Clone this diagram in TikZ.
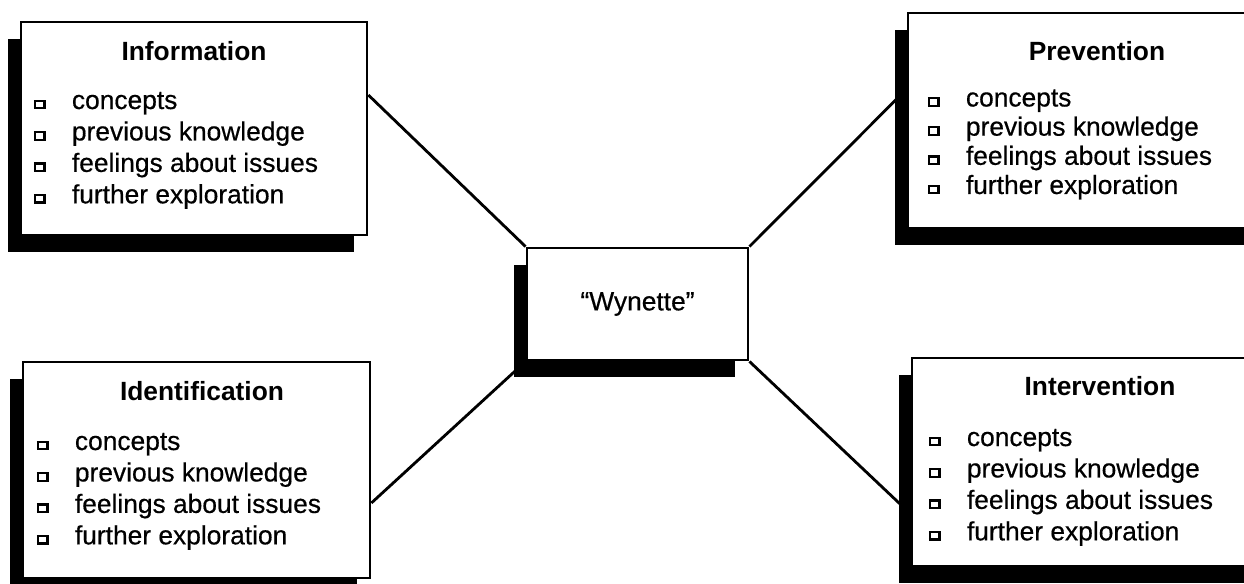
\documentclass[tikz,border=0pt]{standalone}
\usepackage{fontspec}
\setmainfont{Liberation Sans}
\usetikzlibrary{positioning, shadows, backgrounds}

% small hollow square used in front of each list entry
\newcommand{\sqbullet}{\raisebox{1.1pt}{\setlength{\fboxrule}{1.3pt}\setlength{\fboxsep}{0pt}\fbox{\rule{0pt}{3pt}\hspace{4pt}}}\hspace{15pt}}

\begin{document}
\begin{tikzpicture}[
    x=0.02cm, y=-0.02cm,
    topic/.style={rectangle, draw=black, line width=1.6pt, fill=white, inner sep=0pt,
        drop shadow={shadow xshift=-0.26cm, shadow yshift=-0.34cm, fill=black, opacity=1}},
    head/.style={inner sep=0pt, font=\fontsize{15}{18}\selectfont\bfseries},
    items/.style={anchor=north west, align=left, inner sep=0pt, font=\fontsize{15}{17.9}\selectfont\addfontfeature{FakeBold=0.5}},
    link/.style={line width=1.6pt}
]
\useasboundingbox (0,0) rectangle (1244,583);
\clip (0,0) rectangle (1244,583);

% centre box
\node[topic, minimum width=4.42cm, minimum height=2.24cm, font=\fontsize{15}{18}\selectfont\addfontfeature{FakeBold=0.5}] (hub) at (637.5,304) {“Wynette”};

% four topic boxes
\node[topic, minimum width=6.92cm, minimum height=4.26cm] (info) at (194,128.5) {};
\node[head] (infohead) at ([yshift=-0.6cm]info.north) {Information};
\node[items] (infolist) at ([xshift=0.28cm, yshift=-1.42cm]info.north west)
    {\sqbullet concepts\\ \sqbullet previous knowledge\\ \sqbullet feelings about issues\\ \sqbullet further exploration};

\node[topic, minimum width=7.56cm, minimum height=4.3cm] (prev) at (1097,120.5) {};
\node[head] (prevhead) at ([yshift=-0.78cm]prev.north) {Prevention};
\node[items, font=\fontsize{15}{16.6}\selectfont\addfontfeature{FakeBold=0.5}] (prevlist) at ([xshift=0.42cm, yshift=-1.55cm]prev.north west)
    {\sqbullet concepts\\ \sqbullet previous knowledge\\ \sqbullet feelings about issues\\ \sqbullet further exploration};

\node[topic, minimum width=6.94cm, minimum height=4.32cm] (ident) at (196.5,470) {};
\node[head] (identhead) at ([xshift=0.11cm, yshift=-0.6cm]ident.north) {Identification};
\node[items] (identlist) at ([xshift=0.3cm, yshift=-1.44cm]ident.north west)
    {\sqbullet concepts\\ \sqbullet previous knowledge\\ \sqbullet feelings about issues\\ \sqbullet further exploration};

\node[topic, minimum width=7.52cm, minimum height=4.16cm] (intv) at (1100,462) {};
\node[head] (intvhead) at ([yshift=-0.58cm]intv.north) {Intervention};
\node[items] (intvlist) at ([xshift=0.36cm, yshift=-1.44cm]intv.north west)
    {\sqbullet concepts\\ \sqbullet previous knowledge\\ \sqbullet feelings about issues\\ \sqbullet further exploration};

% where the connectors meet the topic boxes
\coordinate (infoA) at ([yshift=0.67cm]info.east);
\coordinate (prevA) at ([yshift=0.63cm]prev.west);
\coordinate (identA) at ([yshift=-0.66cm]ident.east);
\coordinate (intvA) at ([yshift=-1.04cm]intv.west);

\begin{scope}[on background layer]
\foreach \a/\b in {infoA/hub.north west, hub.north east/prevA, identA/hub.south west, hub.south east/intvA}
    \draw[link] (\a) -- (\b);
\end{scope}

\end{tikzpicture}
\end{document}
